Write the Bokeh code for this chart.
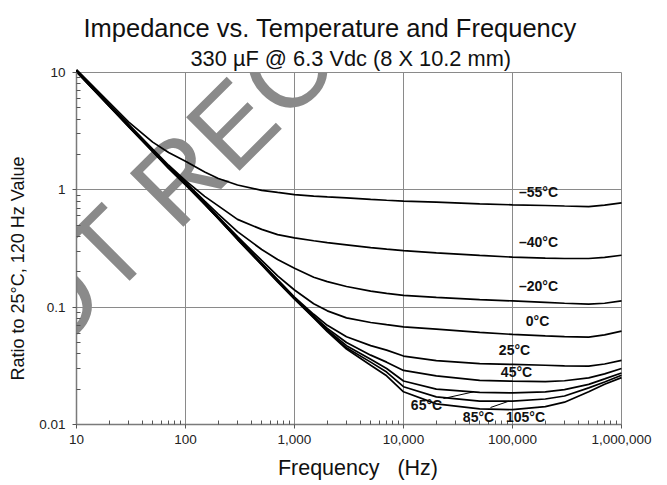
import math
from bokeh.plotting import figure
from bokeh.models import Label, FixedTicker, NumeralTickFormatter, ColumnDataSource, Title
from bokeh.embed import file_html
from bokeh.resources import INLINE

# ---------------- data ----------------
freq = [10, 20, 30, 50, 70, 100, 150, 200, 300, 500, 700, 1000, 1500, 2000, 3000,
        5000, 7000, 10000, 20000, 50000, 100000, 200000, 300000, 500000, 700000, 1000000]

temp_labels = ["\u201355\u00b0C", "\u201340\u00b0C", "\u201320\u00b0C", "0\u00b0C", "25\u00b0C",
               "45\u00b0C", "65\u00b0C", "85\u00b0C", "105\u00b0C"]

m55 = [10.6, 5.55, 3.8, 2.55, 2.08, 1.75, 1.42, 1.25, 1.1, 0.99, 0.95, 0.91, 0.885, 0.87, 0.855,
       0.83, 0.815, 0.80, 0.785, 0.76, 0.745, 0.735, 0.728, 0.72, 0.74, 0.775]
m40 = [10.45, 5.35, 3.62, 2.22, 1.62, 1.2, 0.88, 0.73, 0.56, 0.46, 0.415, 0.39, 0.368, 0.355, 0.34,
       0.322, 0.312, 0.303, 0.29, 0.276, 0.267, 0.262, 0.26, 0.26, 0.266, 0.277]
m20 = [10.4, 5.3, 3.58, 2.18, 1.58, 1.16, 0.8, 0.62, 0.44, 0.31, 0.255, 0.215, 0.18, 0.165, 0.15,
       0.137, 0.131, 0.126, 0.121, 0.116, 0.113, 0.11, 0.108, 0.106, 0.108, 0.113]
z0 = [10.35, 5.28, 3.56, 2.17, 1.57, 1.15, 0.78, 0.59, 0.40, 0.25, 0.185, 0.14, 0.107, 0.093, 0.081,
      0.074, 0.071, 0.068, 0.065, 0.061, 0.0586, 0.057, 0.0562, 0.0556, 0.058, 0.0625]
p25 = [10.3, 5.25, 3.54, 2.16, 1.56, 1.14, 0.77, 0.58, 0.39, 0.238, 0.172, 0.122, 0.087, 0.070, 0.056,
       0.047, 0.043, 0.0383, 0.035, 0.033, 0.0325, 0.032, 0.0316, 0.0314, 0.0328, 0.0352]
p45 = [10.25, 5.22, 3.52, 2.15, 1.55, 1.13, 0.765, 0.575, 0.385, 0.235, 0.17, 0.12, 0.084, 0.066, 0.050,
       0.039, 0.034, 0.0289, 0.026, 0.0238, 0.0234, 0.0232, 0.0236, 0.025, 0.027, 0.030]
p65 = [10.2, 5.2, 3.5, 2.14, 1.54, 1.12, 0.76, 0.572, 0.382, 0.233, 0.168, 0.119, 0.083, 0.064, 0.047,
       0.036, 0.030, 0.0235, 0.020, 0.0188, 0.0186, 0.019, 0.0198, 0.022, 0.0245, 0.0275]
p85 = [10.15, 5.18, 3.48, 2.13, 1.53, 1.11, 0.755, 0.57, 0.38, 0.231, 0.166, 0.118, 0.082, 0.063, 0.045,
       0.034, 0.028, 0.021, 0.0172, 0.0158, 0.0158, 0.0165, 0.0175, 0.0205, 0.023, 0.0263]
p105 = [10.1, 5.15, 3.46, 2.12, 1.52, 1.1, 0.75, 0.567, 0.377, 0.229, 0.164, 0.117, 0.081, 0.062, 0.044,
        0.032, 0.026, 0.019, 0.015, 0.0136, 0.0134, 0.0142, 0.0155, 0.019, 0.022, 0.0251]

series = [m55, m40, m20, z0, p25, p45, p65, p85, p105]

x_ticks = [10, 100, 1000, 10000, 100000, 1000000]
y_ticks = [0.01, 0.1, 1, 10]

# ---------------- layout ----------------
FL, FT, FW, FH, FR, FB = 76, 72, 545, 352, 40, 58
X0, X1, Y0, Y1 = 10, 1e6, 0.01, 10
FONT = "Liberation Sans"
NB = "\u00a0"

def dx(px):
    # picture pixel -> data x
    return 10 ** (math.log10(X0) + math.log10(X1 / X0) * (px - FL) / FW)

def dy(py):
    return 10 ** (math.log10(Y1) - math.log10(Y1 / Y0) * (py - FT) / FH)

p = figure(x_axis_type="log", y_axis_type="log", x_range=(X0, X1), y_range=(Y0, Y1),
           frame_width=FW, frame_height=FH, min_border_left=FL, min_border_top=FT,
           min_border_right=FR, min_border_bottom=FB, title_location=None,
           output_backend="svg", toolbar_location=None)
p.outline_line_color = "#8a8a8a"
p.outline_line_width = 1

minor_x = [k * 10 ** n for n in range(1, 6) for k in range(2, 10)]
minor_y = [k * 10.0 ** n for n in range(-2, 1) for k in range(2, 10)]
p.xaxis.ticker = FixedTicker(ticks=x_ticks, minor_ticks=minor_x)
p.yaxis.ticker = FixedTicker(ticks=y_ticks, minor_ticks=minor_y)
p.xaxis.formatter = NumeralTickFormatter(format="0,0")
p.yaxis.formatter = NumeralTickFormatter(format="0.[00]")

for ax in (p.xaxis, p.yaxis):
    ax.level = "overlay"
    ax.axis_line_color = "#7a7a7a"
    ax.axis_line_width = 1.5
    ax.major_tick_line_color = "#555555"
    ax.minor_tick_line_color = "#555555"
    ax.major_tick_in = 0
    ax.major_tick_out = 4
    ax.minor_tick_in = 4
    ax.minor_tick_out = 0
    ax.major_label_text_font = FONT
    ax.major_label_text_font_size = "13.5px"
    ax.major_label_text_color = "#222222"
    ax.axis_label_text_font = FONT
    ax.axis_label_text_font_style = "normal"
    ax.axis_label_text_color = "#111111"
p.xaxis.major_label_standoff = 6
p.yaxis.major_label_standoff = 7

p.xaxis.axis_label = NB * 3 + "Frequency" + NB * 3 + "(Hz)"
p.xaxis.axis_label_text_font_size = "21.5px"
p.xaxis.axis_label_standoff = 9
p.yaxis.axis_label = "Ratio to 25\u00b0C, 120 Hz Value" + NB * 8
p.yaxis.axis_label_text_font_size = "18px"
p.yaxis.axis_label_standoff = 8

p.grid.grid_line_color = "#8a8a8a"
p.grid.grid_line_width = 1

# titles (first added sits closest to the plot)
p.add_layout(Title(text="330 \u00b5F @ 6.3 Vdc (8 X 10.2 mm)", align="left", offset=114,
                   text_font=FONT, text_font_size="21.8px", text_font_style="normal",
                   text_color="#111111", standoff=4), "above")
p.add_layout(Title(text="Impedance vs. Temperature and Frequency", align="left", offset=7,
                   text_font=FONT, text_font_size="25.5px", text_font_style="normal",
                   text_color="#111111", standoff=0), "above")

# watermark, canvas units, drawn beneath the curves and texts
wm = Label(x=-35, y=390, x_units="canvas", y_units="canvas", text="NOT RECOMMENDED",
           angle=math.radians(45), text_font=FONT, text_font_size="110px", text_font_style="normal",
           text_color="#8a8a8a", text_align="left", text_baseline="alphabetic", level="guide")
p.add_layout(wm)

for s in series:
    p.line(freq, s, line_color="black", line_width=1.7, level="annotation")

# curve labels
label_pos = [(538, 191), (538, 241), (538, 285), (537, 320), (514, 349), (516, 371),
             (426, 404), (478, 416), (525, 416)]
for t, (lx, ly) in zip(temp_labels, label_pos):
    p.add_layout(Label(x=dx(lx), y=dy(ly), text=t, text_font=FONT, text_font_size="14px",
                       text_font_style="bold", text_align="center", text_baseline="middle",
                       text_color="#111111", level="overlay"))

# leader lines from labels to curves (65 and 85 degC)
def interp(series_vals, f):
    lf = math.log10(f)
    for i in range(len(freq) - 1):
        a, b = math.log10(freq[i]), math.log10(freq[i + 1])
        if a <= lf <= b:
            t = (lf - a) / (b - a)
            return 10 ** (math.log10(series_vals[i]) * (1 - t) + math.log10(series_vals[i + 1]) * t)
    return series_vals[-1]

lead = ColumnDataSource(dict(
    x0=[dx(443), dx(490)], y0=[dy(398), dy(407)],
    x1=[43800, 92500], y1=[interp(p65, 43800), interp(p85, 92500)]))
p.segment("x0", "y0", "x1", "y1", source=lead, line_color="black", line_width=1, level="annotation")

open("out.html", "w").write(file_html(p, INLINE))
